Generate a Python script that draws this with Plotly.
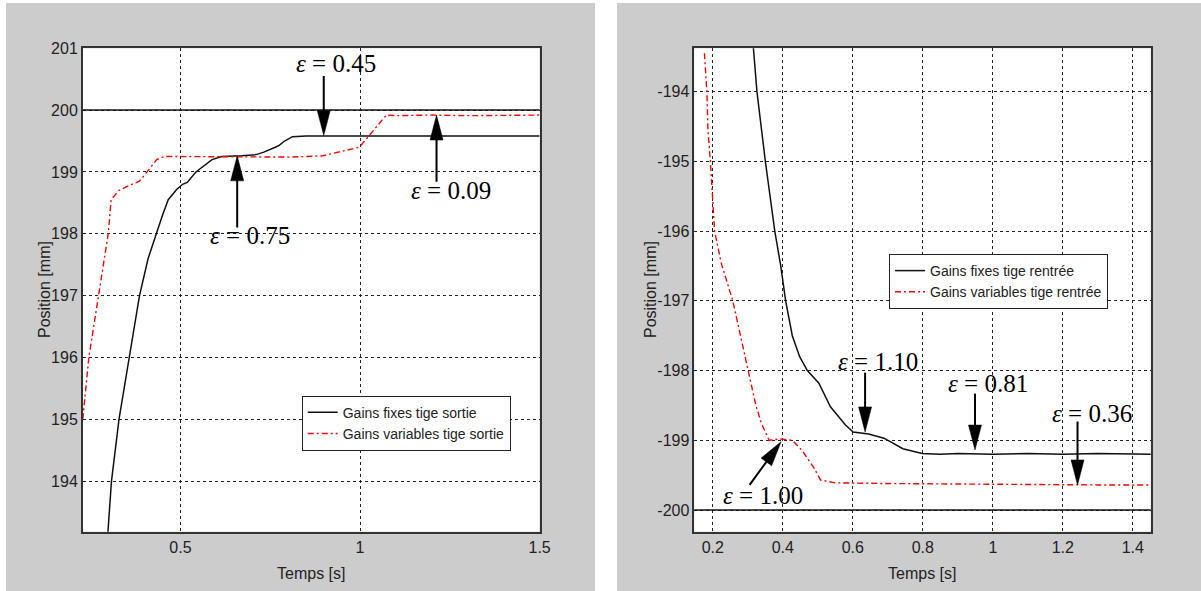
import math
import plotly.graph_objects as go

W, H = 1201, 591

# ---------------- data : left panel (tige sortie) ----------------
t_fixes_sortie = [0.296, 0.308, 0.329, 0.358, 0.386, 0.41, 0.432, 0.45, 0.466, 0.49, 0.506, 0.519,
                  0.543, 0.565, 0.588, 0.615, 0.64, 0.67, 0.711, 0.732, 0.764, 0.775, 0.79, 0.812,
                  0.85, 0.9, 1.0, 1.1, 1.2, 1.3, 1.4, 1.5]
pos_fixes_sortie = [193.0, 194.0, 195.0, 196.0, 197.0, 197.6, 198.0, 198.3, 198.55, 198.72, 198.8, 198.83,
                    199.0, 199.1, 199.2, 199.25, 199.25, 199.26, 199.28, 199.32, 199.4, 199.43, 199.5,
                    199.57, 199.58, 199.58, 199.57, 199.58, 199.57, 199.58, 199.57, 199.58]

t_var_sortie = [0.228, 0.245, 0.272, 0.299, 0.307, 0.328, 0.365, 0.386, 0.407, 0.434, 0.456, 0.55,
                0.65, 0.75, 0.804, 0.896, 0.962, 0.998, 1.026, 1.054, 1.073, 1.1, 1.2, 1.3, 1.4, 1.5]
pos_var_sortie = [195.0, 196.0, 197.0, 198.0, 198.55, 198.7, 198.8, 198.85, 199.0, 199.2, 199.25, 199.25,
                  199.25, 199.25, 199.24, 199.26, 199.35, 199.4, 199.59, 199.79, 199.92, 199.91, 199.92,
                  199.91, 199.92, 199.92]

consigne_sortie = 200

# ---------------- data : right panel (tige rentrée) ----------------
t_fixes_rentree = [0.313, 0.326, 0.350, 0.377, 0.394, 0.408, 0.427, 0.448, 0.470, 0.503, 0.536, 0.579,
                   0.601, 0.645, 0.689, 0.743, 0.798, 0.85, 0.9, 1.0, 1.1, 1.2, 1.3, 1.4, 1.452]
pos_fixes_rentree = [-193.2, -194.0, -195.0, -196.0, -196.5, -197.0, -197.5, -197.8, -198.0, -198.18,
                     -198.52, -198.78, -198.88, -198.91, -198.97, -199.12, -199.19, -199.2, -199.19,
                     -199.2, -199.19, -199.2, -199.19, -199.2, -199.2]

t_var_rentree = [0.176, 0.183, 0.186, 0.193, 0.205, 0.224, 0.257, 0.279, 0.301, 0.323, 0.339, 0.361,
                 0.39, 0.427, 0.454, 0.487, 0.508, 0.55, 0.7, 0.9, 1.1, 1.3, 1.452]
pos_var_rentree = [-193.45, -194.0, -194.55, -195.0, -196.0, -196.46, -197.0, -197.5, -198.0, -198.5,
                   -198.76, -199.0, -198.98, -199.0, -199.14, -199.38, -199.57, -199.61, -199.62,
                   -199.63, -199.63, -199.64, -199.64]

consigne_rentree = -200

# ---------------- ticks ----------------
left_xticks = [0.5, 1, 1.5]
left_xticklabels = ["0.5", "1", "1.5"]
left_yticks = [194, 195, 196, 197, 198, 199, 200, 201]
left_yticklabels = ["194", "195", "196", "197", "198", "199", "200", "201"]
right_xticks = [0.2, 0.4, 0.6, 0.8, 1.0, 1.2, 1.4]
right_xticklabels = ["0.2", "0.4", "0.6", "0.8", "1", "1.2", "1.4"]
right_yticks = [-200, -199, -198, -197, -196, -195, -194]
right_yticklabels = ["-200", "-199", "-198", "-197", "-196", "-195", "-194"]

x_title = "Temps [s]"
y_title = "Position [mm]"

# ---------------- annotations (epsilon) ----------------
eps_left_labels = ["0.45", "0.75", "0.09"]
eps_left_text_t = [0.934, 0.695, 1.253]
eps_left_text_y = [200.76, 197.97, 198.70]
eps_left_tail_t = [0.899, 0.658, 1.213]
eps_left_tail_y = [200.55, 198.10, 198.84]
eps_left_head_t = [0.899, 0.658, 1.213]
eps_left_head_y = [199.59, 199.26, 199.92]

eps_right_labels = ["1.10", "0.81", "0.36", "1.00"]
eps_right_text_t = [0.671, 0.986, 1.283, 0.343]
eps_right_text_y = [-197.87, -198.18, -198.61, -199.79]
eps_right_tail_t = [0.635, 0.949, 1.242, 0.305]
eps_right_tail_y = [-198.03, -198.33, -198.73, -199.64]
eps_right_head_t = [0.635, 0.949, 1.242, 0.395]
eps_right_head_y = [-198.88, -199.14, -199.64, -199.02]

# ---------------- layout geometry / style ----------------
X1_DOM = [0.0689, 0.4493]
X2_DOM = [0.5781, 0.9581]
Y_DOM = [0.1003, 0.9183]
X1_RANGE = [0.228, 1.5]
Y1_RANGE = [193.18, 201]
X2_RANGE = [0.147, 1.451]
Y2_RANGE = [-200.311, -193.378]

SANS = "Liberation Sans Narrow, Arial Narrow, Liberation Sans, Arial, sans-serif"
SERIF = "Liberation Serif, Times New Roman, serif"
TICK_FONT = dict(family=SANS, size=16, color="#222222")
TITLE_FONT = dict(family=SANS, size=16, color="#222222")
LEG_FONT = dict(family=SANS, size=14, color="#222222")
EPS_FONT = dict(family=SERIF, size=25, color="#000000")
RED_DASH = "6px,3px,2px,3px"

fig = go.Figure()

fig.add_trace(go.Scatter(x=t_fixes_sortie, y=pos_fixes_sortie, mode="lines",
                         name="Gains fixes tige sortie", xaxis="x", yaxis="y",
                         line=dict(color="#111111", width=1.5), legend="legend"))
fig.add_trace(go.Scatter(x=t_var_sortie, y=pos_var_sortie, mode="lines",
                         name="Gains variables tige sortie", xaxis="x", yaxis="y",
                         line=dict(color="#ff0000", width=1.4, dash=RED_DASH), legend="legend"))
fig.add_trace(go.Scatter(x=t_fixes_rentree, y=pos_fixes_rentree, mode="lines",
                         name="Gains fixes tige rentrée", xaxis="x2", yaxis="y2",
                         line=dict(color="#111111", width=1.5), legend="legend2"))
fig.add_trace(go.Scatter(x=t_var_rentree, y=pos_var_rentree, mode="lines",
                         name="Gains variables tige rentrée", xaxis="x2", yaxis="y2",
                         line=dict(color="#ff0000", width=1.4, dash=RED_DASH), legend="legend2"))

axis_common = dict(showline=True, mirror=True, linecolor="#333333", linewidth=1.5,
                   showgrid=True, gridcolor="#222222", gridwidth=1.3, griddash="3px,3px",
                   zeroline=False, ticks="", tickfont=TICK_FONT, automargin=False)

shapes = []
# gray panels: paper is gray, white gaps
for x0, x1, y0, y1 in [(0, 6 / W, 0, 1), (595 / W, 617 / W, 0, 1), (0, 1, 1 - 3 / H, 1)]:
    shapes.append(dict(type="rect", xref="paper", yref="paper", x0=x0, x1=x1, y0=y0, y1=y1,
                       fillcolor="white", line=dict(width=0), layer="below"))

# consigne lines
shapes.append(dict(type="line", xref="x domain", yref="y", x0=0, x1=1,
                   y0=consigne_sortie, y1=consigne_sortie, line=dict(color="#111111", width=1.5)))
shapes.append(dict(type="line", xref="x2 domain", yref="y2", x0=0, x1=1,
                   y0=consigne_rentree, y1=consigne_rentree, line=dict(color="#111111", width=1.5)))

annotations = []
HEAD_L, HEAD_W = 25, 13


def add_arrows(xr, yr, xdom, xrange_, yrange_, tails_t, tails_y, heads_t, heads_y):
    sx = (xdom[1] - xdom[0]) * W / (xrange_[1] - xrange_[0])
    sy = (Y_DOM[1] - Y_DOM[0]) * H / (yrange_[1] - yrange_[0])
    for tt, ty, ht, hy in zip(tails_t, tails_y, heads_t, heads_y):
        dx = (ht - tt) * sx
        dy = (hy - ty) * sy
        n = math.hypot(dx, dy)
        ux, uy = dx / n, dy / n
        bx, by = -HEAD_L * ux, -HEAD_L * uy
        nx, ny = -uy * HEAD_W / 2, ux * HEAD_W / 2
        shapes.append(dict(type="line", xref=xr, yref=yr, x0=tt, y0=ty,
                           x1=ht - (HEAD_L * 0.5) * ux / sx, y1=hy - (HEAD_L * 0.5) * uy / sy,
                           line=dict(color="#000000", width=2)))
        path = "M 0 0 L {:.2f} {:.2f} L {:.2f} {:.2f} Z".format(bx + nx, by + ny, bx - nx, by - ny)
        shapes.append(dict(type="path", xref=xr, yref=yr, xsizemode="pixel", ysizemode="pixel",
                           xanchor=ht, yanchor=hy, path=path,
                           fillcolor="#000000", line=dict(color="#000000", width=0.5)))


add_arrows("x", "y", X1_DOM, X1_RANGE, Y1_RANGE,
           eps_left_tail_t, eps_left_tail_y, eps_left_head_t, eps_left_head_y)
add_arrows("x2", "y2", X2_DOM, X2_RANGE, Y2_RANGE,
           eps_right_tail_t, eps_right_tail_y, eps_right_head_t, eps_right_head_y)

for lab, tx, ty in zip(eps_left_labels, eps_left_text_t, eps_left_text_y):
    annotations.append(dict(xref="x", yref="y", x=tx, y=ty, text="<i>ε</i> = " + lab,
                            showarrow=False, font=EPS_FONT))
for lab, tx, ty in zip(eps_right_labels, eps_right_text_t, eps_right_text_y):
    annotations.append(dict(xref="x2", yref="y2", x=tx, y=ty, text="<i>ε</i> = " + lab,
                            showarrow=False, font=EPS_FONT))

# axis titles (placed as in the reference)
ymid = (Y_DOM[0] + Y_DOM[1]) / 2
for xdom, ylab_px in [(X1_DOM, 44), (X2_DOM, 650)]:
    annotations.append(dict(xref="paper", yref="paper", x=(xdom[0] + xdom[1]) / 2, y=1 - 573 / H,
                            text=x_title, showarrow=False, font=TITLE_FONT,
                            xanchor="center", yanchor="middle"))
    annotations.append(dict(xref="paper", yref="paper", x=ylab_px / W, y=ymid,
                            text=y_title, showarrow=False, font=TITLE_FONT, textangle=-90,
                            xanchor="center", yanchor="middle"))

fig.update_layout(
    width=W, height=H,
    margin=dict(l=0, r=0, t=0, b=0),
    paper_bgcolor="#cccccc",
    plot_bgcolor="#ffffff",
    showlegend=True,
    xaxis=dict(axis_common, domain=X1_DOM, range=X1_RANGE, tickvals=left_xticks,
               ticktext=left_xticklabels, anchor="y"),
    yaxis=dict(axis_common, domain=Y_DOM, range=Y1_RANGE, tickvals=left_yticks,
               ticktext=left_yticklabels, anchor="x"),
    xaxis2=dict(axis_common, domain=X2_DOM, range=X2_RANGE, tickvals=right_xticks,
                ticktext=right_xticklabels, anchor="y2"),
    yaxis2=dict(axis_common, domain=Y_DOM, range=Y2_RANGE, tickvals=right_yticks,
                ticktext=right_yticklabels, anchor="x2"),
    legend=dict(x=301.7 / W, y=1 - 395.7 / H, xanchor="left", yanchor="top",
                bgcolor="#ffffff", bordercolor="#222222", borderwidth=1, font=LEG_FONT,
                itemwidth=30, tracegroupgap=0),
    legend2=dict(x=889 / W, y=1 - 254 / H, xanchor="left", yanchor="top",
                 bgcolor="#ffffff", bordercolor="#222222", borderwidth=1, font=LEG_FONT,
                 itemwidth=30, tracegroupgap=0),
    shapes=shapes,
    annotations=annotations,
)

fig.write_html("out.html", config={"displayModeBar": False},
               post_script="document.body.style.margin='0';document.body.style.overflow='hidden';")
